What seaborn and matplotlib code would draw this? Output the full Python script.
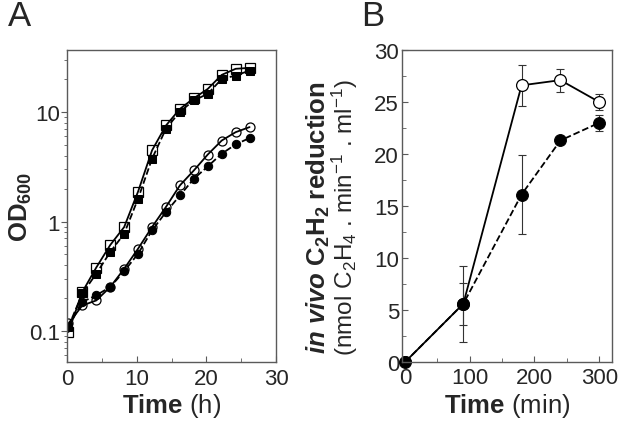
import numpy as np
import pandas as pd
import matplotlib
matplotlib.use("Agg")
import matplotlib.pyplot as plt
import seaborn as sns
from matplotlib.ticker import MultipleLocator, NullFormatter

# -----------------------------
# Data
# -----------------------------
# Panel A: growth curves (OD600, log scale)
time_h = [0.2, 2.2, 4.2, 6.2, 8.2, 10.2, 12.2, 14.2, 16.2, 18.2, 20.2, 22.2, 24.2, 26.2]
od_sq_open = [0.098, 0.227, 0.38, 0.61, 0.89, 1.88, 4.47, 7.55, 10.7, 13.4, 16.3, 21.9, 24.9, 25.4]
od_sq_fill = [0.109, 0.22, 0.334, 0.526, 0.774, 1.62, 3.75, 7.05, 10.1, 12.8, 14.7, 20.1, 21.6, 24.0]
od_ci_open = [0.117, 0.171, 0.19, 0.252, 0.37, 0.565, 0.89, 1.36, 2.14, 2.93, 4.1, 5.5, 6.56, 7.3]
od_ci_fill = [0.109, 0.184, 0.212, 0.252, 0.351, 0.508, 0.83, 1.22, 1.73, 2.46, 3.19, 4.17, 5.07, 5.8]

# Panel B: in vivo acetylene reduction
time_min = [0, 90, 180, 240, 300]
red_open = [0, 5.6, 26.6, 27.1, 25.0]
red_open_err = [0, 3.65, 2.0, 1.1, 0.75]
red_fill = [0, 5.6, 16.1, 21.3, 23.0]
red_fill_err = [0, 2.0, 3.8, 0.2, 0.75]

# -----------------------------
# Style
# -----------------------------
sns.set_style("ticks")
plt.rcParams["font.family"] = ["Liberation Sans", "DejaVu Sans"]
plt.rcParams["mathtext.fontset"] = "custom"
plt.rcParams["mathtext.rm"] = "Liberation Sans"
plt.rcParams["mathtext.it"] = "Liberation Sans:italic"
plt.rcParams["mathtext.bf"] = "Liberation Sans:bold"
plt.rcParams["mathtext.bfit"] = "Liberation Sans:bold:italic"

spine_col = "#5a5a5a"
tick_fs = 16
label_fs = 18.5

fig = plt.figure(figsize=(6.24, 4.35), dpi=100)
axA = fig.add_axes([0.1074, 0.1655, 0.335, 0.7173])
axB = fig.add_axes([0.644, 0.1655, 0.337, 0.7173])

# -----------------------------
# Panel A
# -----------------------------
dfA = pd.DataFrame({"t": time_h, "sq_o": od_sq_open, "sq_f": od_sq_fill,
                    "ci_o": od_ci_open, "ci_f": od_ci_fill})

sns.lineplot(data=dfA, x="t", y="sq_f", ax=axA, color="black", lw=1.3, ls="--",
             marker="s", markersize=6, markerfacecolor="black", markeredgecolor="black")
sns.lineplot(data=dfA, x="t", y="sq_o", ax=axA, color="black", lw=1.3, ls="-",
             marker="s", markersize=6.5, markerfacecolor="none", markeredgecolor="black",
             markeredgewidth=0.9)
sns.lineplot(data=dfA, x="t", y="ci_f", ax=axA, color="black", lw=1.3, ls="--",
             marker="o", markersize=6, markerfacecolor="black", markeredgecolor="black")
sns.lineplot(data=dfA, x="t", y="ci_o", ax=axA, color="black", lw=1.3, ls="-",
             marker="o", markersize=6.5, markerfacecolor="none", markeredgecolor="black",
             markeredgewidth=0.9)

axA.set_yscale("log")
axA.set_xlim(0, 30)
axA.set_ylim(0.052, 37)
axA.set_xticks([0, 10, 20, 30])
axA.xaxis.set_minor_locator(MultipleLocator(5))
axA.set_yticks([0.1, 1, 10])
axA.set_yticklabels(["0.1", "1", "10"])
axA.yaxis.set_minor_formatter(NullFormatter())
axA.tick_params(axis="x", which="both", direction="in", labelsize=tick_fs, pad=4)
axA.tick_params(axis="x", which="major", length=4)
axA.tick_params(axis="x", which="minor", length=3)
axA.tick_params(axis="y", which="both", direction="out", labelsize=tick_fs, pad=1)
axA.tick_params(axis="y", which="major", length=4)
axA.tick_params(axis="y", which="minor", length=2.5)
axA.set_xlabel(r"$\mathbf{Time}$ (h)", fontsize=label_fs, labelpad=2)
axA.set_ylabel(r"$\mathbf{OD_{600}}$", fontsize=label_fs)
axA.yaxis.set_label_coords(-0.16, 0.5)

# -----------------------------
# Panel B
# -----------------------------
dfB = pd.DataFrame({"t": time_min, "o": red_open, "f": red_fill})

axB.errorbar(time_min, red_fill, yerr=red_fill_err, fmt="none", ecolor="#333333",
             elinewidth=0.8, capsize=3, capthick=0.8)
axB.errorbar(time_min, red_open, yerr=red_open_err, fmt="none", ecolor="#333333",
             elinewidth=0.8, capsize=3, capthick=0.8)
sns.lineplot(data=dfB, x="t", y="o", ax=axB, color="black", lw=1.3, ls="-",
             marker="o", markersize=8.5, markerfacecolor="white", markeredgecolor="black",
             markeredgewidth=0.9)
sns.lineplot(data=dfB, x="t", y="f", ax=axB, color="black", lw=1.3, ls="--",
             marker="o", markersize=8.5, markerfacecolor="black", markeredgecolor="black")
axB.lines[-1].set_clip_on(False)

axB.set_xlim(-5, 320)
axB.set_ylim(0, 30)
axB.set_xticks([0, 100, 200, 300])
axB.xaxis.set_minor_locator(MultipleLocator(50))
axB.set_yticks([0, 5, 10, 15, 20, 25, 30])
axB.yaxis.set_minor_locator(MultipleLocator(2.5))
axB.tick_params(axis="both", which="both", direction="in", labelsize=tick_fs)
axB.tick_params(axis="both", which="major", length=4)
axB.tick_params(axis="both", which="minor", length=3)
axB.tick_params(axis="y", pad=2)
axB.set_xlabel(r"$\mathbf{Time}$ (min)", fontsize=label_fs, labelpad=2)
axB.set_ylabel("")

fig.text(0.510, 0.50, r"$\mathbfit{in\ vivo}$ $\mathbf{C_2H_2}$ reduction",
         rotation=90, ha="center", va="center", fontsize=18.5, fontweight="bold")
fig.text(0.553, 0.50, r"(nmol C$_2$H$_4$ . min$^{-1}$ . ml$^{-1}$)",
         rotation=90, ha="center", va="center", fontsize=17.5)

for ax in (axA, axB):
    for sp in ax.spines.values():
        sp.set_color(spine_col)
        sp.set_linewidth(1.0)
    ax.tick_params(which="both", color=spine_col)

# Panel letters
fig.text(0.012, 0.925, "A", fontsize=25, ha="left", va="bottom")
fig.text(0.578, 0.925, "B", fontsize=25, ha="left", va="bottom")

fig.savefig("out.png", dpi=100)
